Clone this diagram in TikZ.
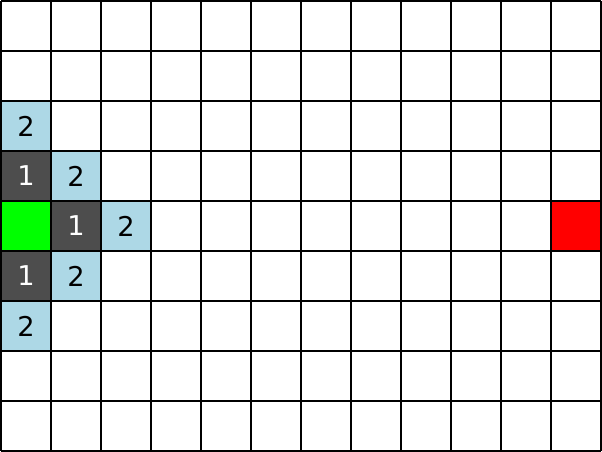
\documentclass[tikz,border=0pt]{standalone}
\usepackage{fontspec}
\setmainfont{DejaVu Sans}
\definecolor{cstart}{HTML}{00FF00}
\definecolor{cgoal}{HTML}{FF0000}
\definecolor{cnear}{HTML}{4D4D4D}
\definecolor{cfar}{HTML}{ADD8E6}
\tikzset{
  every picture/.style={line width=1.2pt},
  cell/.style={fill=#1, minimum size=1cm, inner sep=0pt, font=\fontsize{15.5}{18}\selectfont},
  cell/.default=white,
  near/.style={cell=cnear, text=white},
  far/.style={cell=cfar, text=black},
}
\begin{document}
\begin{tikzpicture}[x=1cm, y=1cm]
  \useasboundingbox (0,0) rectangle (12.04,9.04);
  \fill[white] (0,0) rectangle (12.04,9.04);
  % start and goal
  \node[cell=cstart] (start) at (0.52, 4.52) {};
  \node[cell=cgoal] (goal) at (11.52, 4.52) {};
  % distance 1
  \foreach \c/\r [count=\i] in {0/3, 1/4, 0/5}
    \node[near] (d1\i) at (\c+0.52, 8.52-\r) {1};
  % distance 2
  \foreach \c/\r [count=\i] in {0/2, 1/3, 2/4, 1/5, 0/6}
    \node[far] (d2\i) at (\c+0.52, 8.52-\r) {2};
  % grid
  \draw[black, shift={(0.02,0.02)}] (0,0) grid (12,9);
\end{tikzpicture}
\end{document}
